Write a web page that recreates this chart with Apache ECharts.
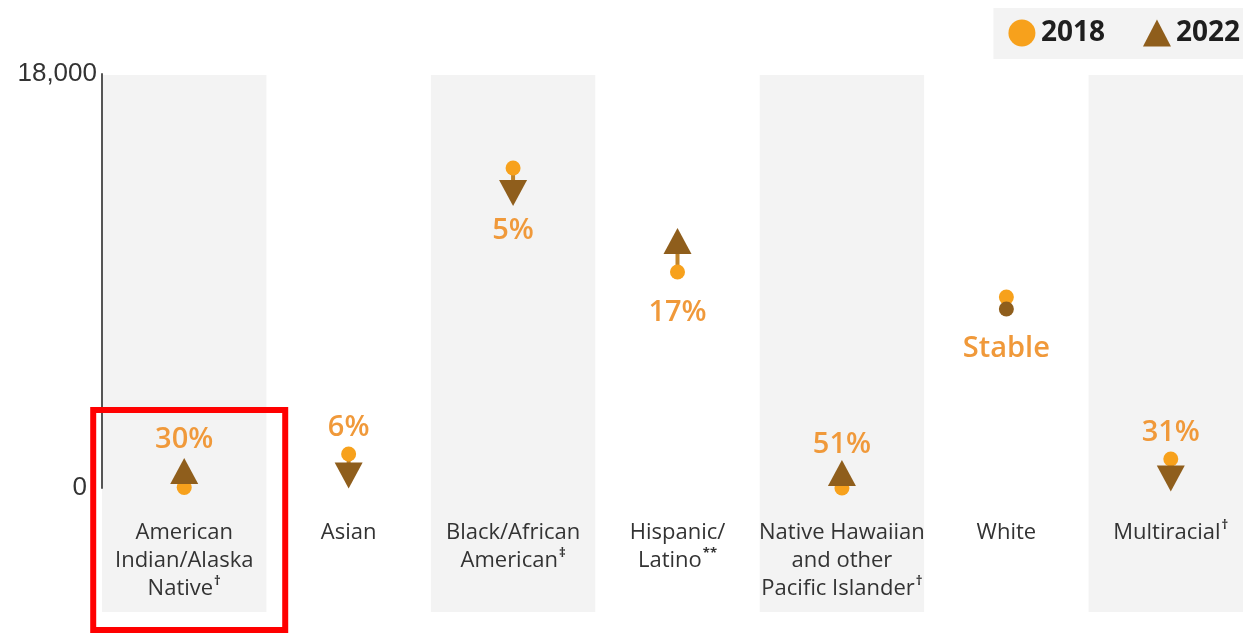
<!DOCTYPE html>
<html>
<head>
<meta charset="utf-8">
<script src="https://cdn.jsdelivr.net/npm/echarts@6/dist/echarts.min.js"></script>
<style>
  html, body { margin: 0; padding: 0; background: #ffffff; }
  #chart { width: 1243px; height: 634px; }
</style>
</head>
<body>
<div id="chart"></div>
<script>
// ---- data ----
const categories = ['American\nIndian/Alaska\nNative', 'Asian', 'Black/African\nAmerican', 'Hispanic/\nLatino', 'Native Hawaiian\nand other\nPacific Islander', 'White', 'Multiracial'];
const footnotes = ['†', '', '‡', '**', '†', '', '†'];
const values2018 = [20, 1480, 13910, 9390, 0, 8300, 1260];
const values2022 = [740, 540, 12830, 10740, 650, 7780, 410];
const changeLabels = ['30%', '6%', '5%', '17%', '51%', 'Stable', '31%'];
const yTicks = [0, 18000];
const seriesNames = ['2018', '2022'];

// ---- styles ----
const ORANGE = '#f7a11c';
const BROWN = '#8f5e1c';
const LABEL_ORANGE = '#f0993a';
const DOWN_TRI = 'path://M0,0L20,0L10,20Z';
const FONT = '"Open Sans", sans-serif';

// label placement (style only)
const labelPlace = [
  { on: 1, pos: 'top', dist: 4 },
  { on: 0, pos: 'top', dist: 4 },
  { on: 1, pos: 'bottom', dist: 10 },
  { on: 0, pos: 'bottom', dist: 19 },
  { on: 1, pos: 'top', dist: 1 },
  { on: 1, pos: 'bottom', dist: 18 },
  { on: 0, pos: 'top', dist: 4 }
];

function pctLabel(i) {
  const p = labelPlace[i];
  return {
    show: true, position: p.pos, distance: p.dist,
    formatter: changeLabels[i],
    color: LABEL_ORANGE, fontSize: 29, fontWeight: 600, fontFamily: FONT
  };
}

const data2018 = values2018.map((v, i) => {
  const item = { value: v };
  if (labelPlace[i].on === 0) item.label = pctLabel(i);
  return item;
});
const data2022 = values2022.map((v, i) => {
  const stable = changeLabels[i] === 'Stable';
  const up = v > values2018[i];
  const item = {
    value: v,
    symbol: stable ? 'circle' : (up ? 'triangle' : DOWN_TRI),
    symbolSize: stable ? 15 : [28, 26]
  };
  if (labelPlace[i].on === 1) item.label = pctLabel(i);
  return item;
});

const chart = echarts.init(document.getElementById('chart'), null, { renderer: 'canvas' });

const option = {
  animation: false,
  backgroundColor: '#ffffff',
  legend: {
    right: 0, top: 8,
    backgroundColor: '#f3f3f3',
    padding: [11, 3, 12, 15],
    itemGap: 38,
    itemWidth: 28, itemHeight: 27,
    data: [{ name: seriesNames[0], icon: 'circle' }, { name: seriesNames[1], icon: 'triangle' }],
    textStyle: { fontSize: 28, fontWeight: 'bold', color: '#1e1e1e', fontFamily: FONT }
  },
  grid: [
    { left: 102, width: 1151, top: 74, bottom: 146, outerBoundsMode: 'none', containLabel: false },
    { left: 102, width: 1151, top: 75, bottom: 22, outerBoundsMode: 'none', containLabel: false }
  ],
  xAxis: [
    {
      type: 'category', gridIndex: 0, data: categories,
      axisLine: { show: false }, axisTick: { show: false },
      axisLabel: {
        interval: 0, margin: 31, lineHeight: 28,
        fontSize: 22, color: '#333', fontFamily: FONT,
        formatter: (v, i) => v + (footnotes[i] ? '{sup|' + footnotes[i] + '}' : ''),
        rich: { sup: { fontSize: 13, fontWeight: 'bold', color: '#333', fontFamily: FONT, verticalAlign: 'top', lineHeight: 28, padding: [0, 0, 0, 1] } }
      }
    },
    {
      type: 'category', gridIndex: 1, data: categories,
      axisLine: { show: false }, axisTick: { show: false }, axisLabel: { show: false },
      splitArea: { show: true, interval: 0, areaStyle: { color: ['#f3f3f3', 'rgba(255,255,255,0)'] } }
    }
  ],
  yAxis: [
    {
      type: 'value', gridIndex: 0, min: yTicks[0], max: yTicks[1], interval: yTicks[1] - yTicks[0],
      axisLine: { show: true, lineStyle: { color: '#555', width: 2 } },
      axisTick: { show: false }, splitLine: { show: false },
      axisLabel: {
        margin: 5, fontSize: 26, color: '#333', fontFamily: 'Liberation Sans',
        formatter: v => v === 0 ? '{z|0}' : v.toLocaleString('en-US'),
        rich: { z: { fontSize: 26, color: '#333', fontFamily: 'Liberation Sans', padding: [0, 10, 0, 0] } }
      }
    },
    { type: 'value', gridIndex: 1, show: false, min: 0, max: 1 }
  ],
  series: [
    {
      type: 'custom', xAxisIndex: 0, yAxisIndex: 0, z: 1, silent: true,
      encode: { x: 0, y: [1, 2] },
      data: categories.map((c, i) => [i, values2018[i], values2022[i]]),
      renderItem: (params, api) => {
        const p1 = api.coord([api.value(0), api.value(1)]);
        const p2 = api.coord([api.value(0), api.value(2)]);
        return { type: 'line', shape: { x1: p1[0], y1: p1[1], x2: p2[0], y2: p2[1] }, style: { stroke: '#c0842a', lineWidth: 4 } };
      }
    },
    {
      name: seriesNames[0], type: 'scatter', xAxisIndex: 0, yAxisIndex: 0, z: 3,
      symbol: 'circle', symbolSize: 15,
      itemStyle: { color: ORANGE, opacity: 1 },
      data: data2018
    },
    {
      name: seriesNames[1], type: 'scatter', xAxisIndex: 0, yAxisIndex: 0, z: 4,
      symbol: 'triangle', symbolSize: [28, 26],
      itemStyle: { color: BROWN, opacity: 1 },
      data: data2022
    }
  ]
};
chart.setOption(option);

// red highlight box around the first category (annotation)
const cx = chart.convertToPixel({ xAxisIndex: 0 }, 0);
chart.setOption({
  graphic: [{
    type: 'rect', z: 100,
    shape: { x: cx - 91, y: 410, width: 192, height: 220 },
    style: { fill: 'none', stroke: '#ff0000', lineWidth: 6 }
  }]
});
</script>
</body>
</html>
